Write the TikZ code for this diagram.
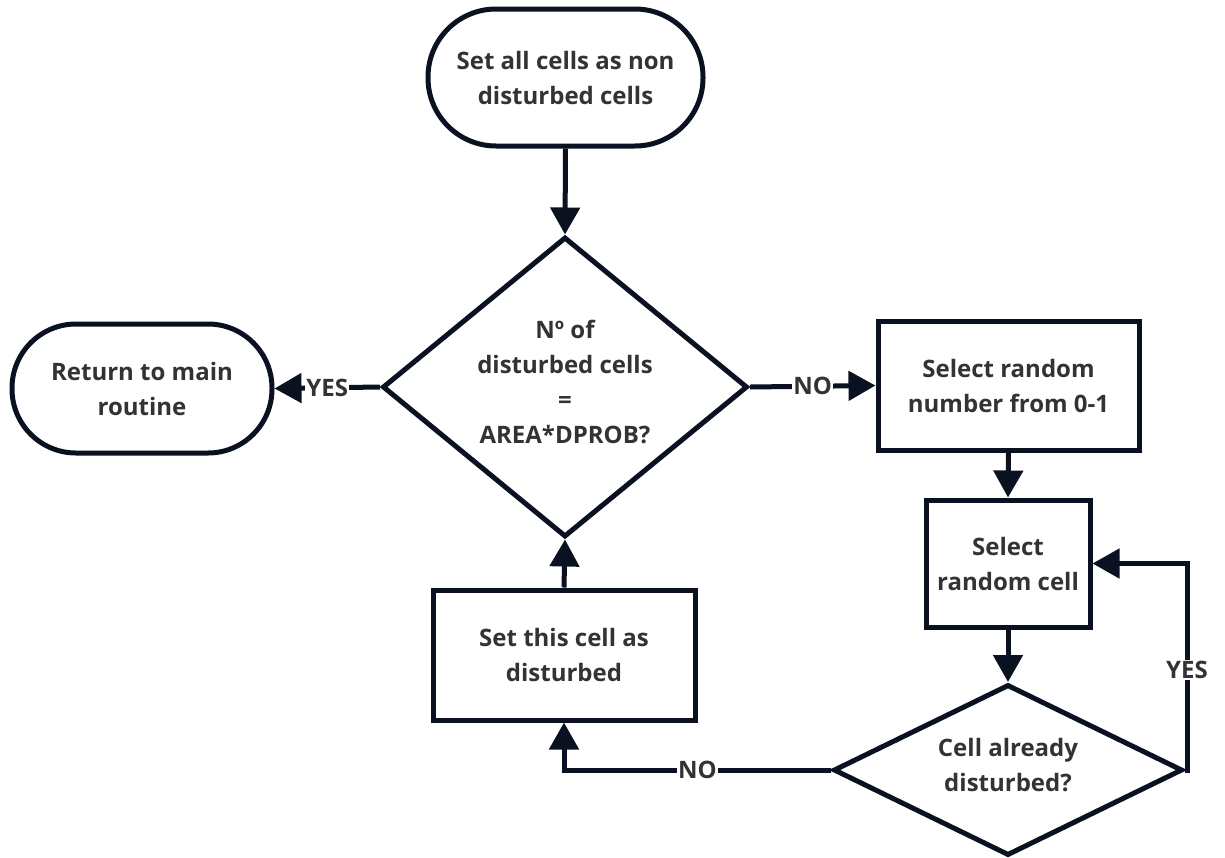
\documentclass[tikz,border=0pt]{standalone}
\usepackage{fontspec}
\setmainfont{Open Sans}
\usetikzlibrary{shapes.geometric,arrows.meta}
\definecolor{ln}{HTML}{0A1120}
\definecolor{tx}{HTML}{333333}
\newcommand{\ztext}[1]{\makebox[0pt]{\raisebox{-0.28em}{\smash{\begin{tabular}{@{}c@{}}#1\end{tabular}}}}}
\tikzset{
  base/.style={draw=ln, line width=5pt, fill=white, text=tx, font=\bfseries\fontsize{24}{35}\selectfont, align=center, inner sep=0pt},
  term/.style={base, rectangle, rounded corners=64pt},
  proc/.style={base, rectangle},
  dec/.style={base, diamond},
  conn/.style={draw=ln, line width=5pt, -{Triangle[length=27pt,width=29pt]}},
  lab/.style={fill=white, text=tx, font=\bfseries\fontsize{24}{28}\selectfont, inner sep=1pt}
}
\begin{document}
\begin{tikzpicture}[x=1pt,y=-1pt]
\useasboundingbox (0,0) rectangle (1225,857);
\node[term, minimum width=275pt, minimum height=137pt, rounded corners=68pt] (start) at (565.5,77.5) {Set all cells as non\\disturbed cells};
\node[term, minimum width=260pt, minimum height=129pt] (ret) at (142,388.5) {Return to main\\routine};
\node[dec, minimum width=365pt, minimum height=300pt] (d1) at (565,387) {\ztext{N\textordmasculine{} of\\disturbed cells\\=\\AREA*DPROB?}};
\node[proc, minimum width=261pt, minimum height=129pt] (num) at (1008.5,385.5) {Select random\\number from 0-1};
\node[proc, minimum width=164pt, minimum height=127pt] (cell) at (1008,563.5) {Select\\random cell};
\node[dec, minimum width=349pt, minimum height=171pt] (d2) at (1008,770) {\ztext{Cell already\\disturbed?}};
\node[proc, minimum width=262pt, minimum height=130pt] (setc) at (564,655) {Set this cell as\\disturbed};
\coordinate (yc) at (1187,563.5);
\draw[conn] (start.south) -- (d1.north);
\draw[conn] (d1.west) -- node[lab, pos=0.5] {YES} (ret.east);
\draw[conn] (d1.east) -- node[lab, pos=0.5] {NO} (num.west);
\draw[conn] (num.south) -- (cell.north);
\draw[conn] (cell.south) -- (d2.north);
\draw[conn] (d2.east) -| (yc) -- (cell.east);
\node[lab] (yeslab) at (1187,670) {YES};
\draw[conn] (d2.west) -| node[lab, pos=0.25] {NO} (setc.south);
\draw[conn] (setc.north) -- (d1.south);
\end{tikzpicture}
\end{document}
